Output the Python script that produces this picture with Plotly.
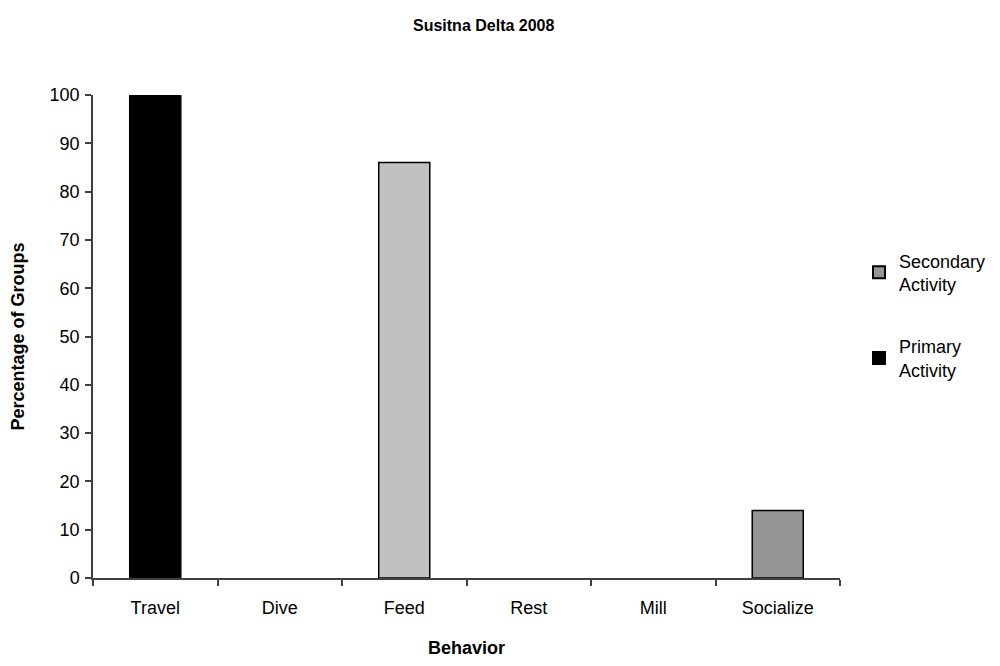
import plotly.graph_objects as go

# Behaviour categories and percentage of groups per activity type
behaviors = ["Travel", "Dive", "Feed", "Rest", "Mill", "Socialize"]
primary = [100, None, None, None, None, None]
secondary = [None, None, 86, None, None, 14]
secondary_colors = ["#969696", "#969696", "#C0C0C0", "#969696", "#969696", "#969696"]

FONT = "Liberation Sans, Arial, sans-serif"
L, R, T, B = 93, 160, 95, 88
W, H = 1000, 666
PW, PH = W - L - R, H - T - B

fig = go.Figure()
fig.add_trace(go.Bar(
    x=behaviors, y=secondary, name="Secondary<br>Activity", legendgroup="s",
    marker=dict(color=secondary_colors, line=dict(color="#000000", width=1.5)),
    width=0.41,
))
fig.add_trace(go.Bar(
    x=behaviors, y=primary, name="Primary<br>Activity", legendgroup="p",
    marker=dict(color="#000000", line=dict(color="#000000", width=1.5)),
    width=0.41,
))

fig.update_layout(
    width=W, height=H,
    margin=dict(l=L, r=R, t=T, b=B, autoexpand=False),
    plot_bgcolor="white", paper_bgcolor="white",
    barmode="overlay",
    showlegend=True,
    legend=dict(
        traceorder="grouped",
        x=(859 - L) / PW, y=0.695, xanchor="left", yanchor="top",
        font=dict(family=FONT, size=18, color="#000000"),
        itemsizing="constant", tracegroupgap=36,
        bgcolor="rgba(0,0,0,0)",
    ),
    annotations=[dict(
        text="<b>Susitna Delta 2008</b>",
        x=(484 - L) / PW, y=1 + (T - 25) / PH, xref="paper", yref="paper",
        xanchor="center", yanchor="middle",
        showarrow=False, font=dict(family=FONT, size=16, color="#000000"),
    )],
    font=dict(family=FONT, size=18, color="#000000"),
)

fig.update_xaxes(
    type="category",
    showline=True, linecolor="#404040", linewidth=1.5,
    ticks="outside", tickson="boundaries", ticklen=6, tickcolor="#404040", tickwidth=1.5,
    ticklabelstandoff=13,
    tickfont=dict(family=FONT, size=18, color="#000000"),
    title=dict(text="<b>Behavior</b>", font=dict(family=FONT, size=18, color="#000000"), standoff=24),
    showgrid=False,
)
fig.update_yaxes(
    range=[0, 100], dtick=10,
    showline=True, linecolor="#404040", linewidth=1.5,
    ticks="outside", ticklen=6, tickcolor="#404040", tickwidth=1.5,
    ticklabelstandoff=2,
    tickfont=dict(family=FONT, size=18, color="#000000"),
    title=dict(text="<b>Percentage of Groups</b>", font=dict(family=FONT, size=18, color="#000000"), standoff=20),
    showgrid=False, zeroline=False,
)

fig.write_html("out.html")
